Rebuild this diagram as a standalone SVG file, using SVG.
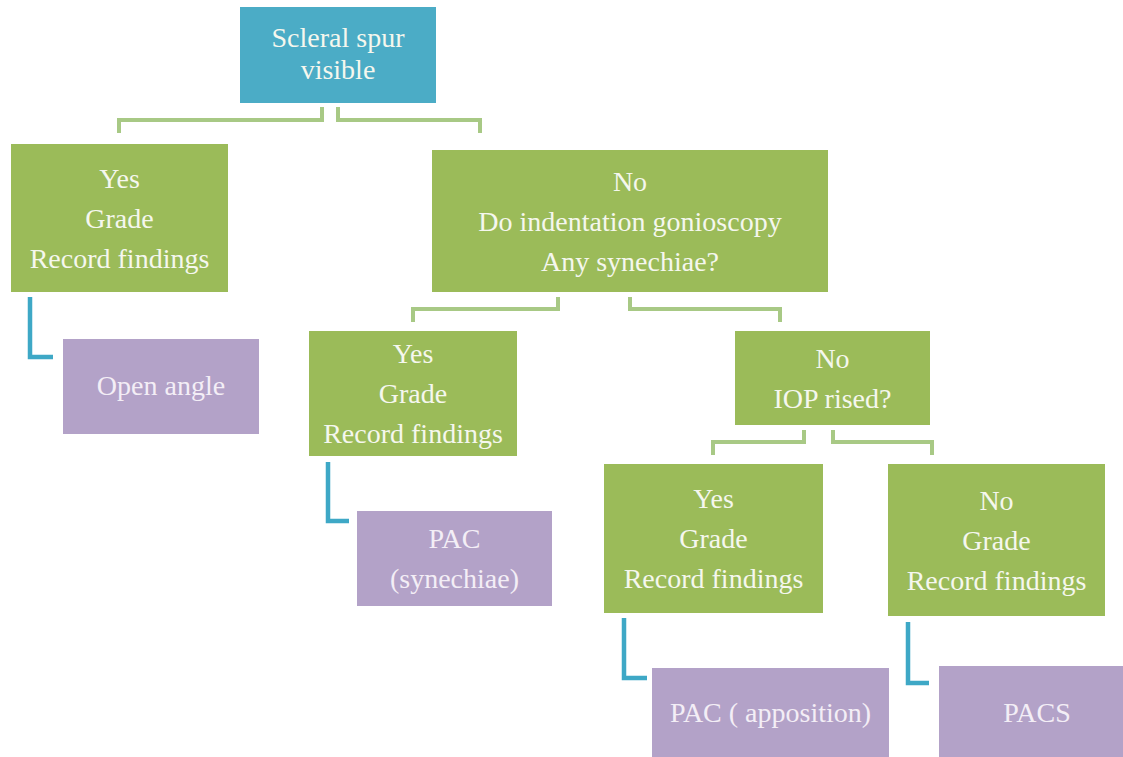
<svg xmlns="http://www.w3.org/2000/svg" width="1123" height="757" viewBox="0 0 1123 757">
<style>
text{font-family:"Liberation Serif","Times New Roman",serif;font-size:28px;text-anchor:middle}
.blue{fill:#4bacc6}
.green{fill:#9bbb59}
.purple{fill:#b3a2c8}
.tg{fill:#f5f7ee}
.tp{fill:#f3eef6}
.cg{fill:none;stroke:#a8c985;stroke-width:4;stroke-linejoin:miter}
.cb{fill:none;stroke:#3ea8c6;stroke-width:4.5;stroke-linejoin:miter}
</style>
<rect width="1123" height="757" fill="#ffffff"/>
<g id="connectors">
<path class="cg" d="M322,107 V120 H119 V133"/>
<path class="cg" d="M338,107 V120 H480 V133"/>
<path class="cg" d="M558,297 V309 H413 V322"/>
<path class="cg" d="M630,297 V309 H780 V322"/>
<path class="cg" d="M804,430 V442 H713 V455"/>
<path class="cg" d="M833,430 V442 H932 V455"/>
<path class="cb" d="M30,297 V357 H53"/>
<path class="cb" d="M328,462 V521 H349"/>
<path class="cb" d="M624,618 V678 H647"/>
<path class="cb" d="M908,622 V683 H929"/>
</g>
<g id="scleral-spur">
<rect class="blue" x="240" y="7" width="196" height="96"/>
<text class="tg" x="338" y="47" font-size="27">Scleral spur</text>
<text class="tg" x="338" y="79" font-size="27">visible</text>
</g>
<g id="yes-1">
<rect class="green" x="11" y="144" width="217" height="148"/>
<text class="tg" x="119.5" y="188">Yes</text>
<text class="tg" x="119.5" y="228">Grade</text>
<text class="tg" x="119.5" y="268">Record findings</text>
</g>
<g id="no-1">
<rect class="green" x="432" y="150" width="396" height="142"/>
<text class="tg" x="630" y="191">No</text>
<text class="tg" x="630" y="231">Do indentation gonioscopy</text>
<text class="tg" x="630" y="271">Any synechiae?</text>
</g>
<g id="open-angle">
<rect class="purple" x="63" y="339" width="196" height="95"/>
<text class="tp" x="161" y="395">Open angle</text>
</g>
<g id="yes-2">
<rect class="green" x="309" y="331" width="208" height="125"/>
<text class="tg" x="413" y="363">Yes</text>
<text class="tg" x="413" y="403">Grade</text>
<text class="tg" x="413" y="443">Record findings</text>
</g>
<g id="no-2">
<rect class="green" x="735" y="331" width="195" height="94"/>
<text class="tg" x="832.5" y="368">No</text>
<text class="tg" x="832.5" y="408">IOP rised?</text>
</g>
<g id="pac-synechiae">
<rect class="purple" x="357" y="511" width="195" height="95"/>
<text class="tp" x="454.5" y="548">PAC</text>
<text class="tp" x="454.5" y="588">(synechiae)</text>
</g>
<g id="yes-3">
<rect class="green" x="604" y="464" width="219" height="149"/>
<text class="tg" x="713.5" y="508">Yes</text>
<text class="tg" x="713.5" y="548">Grade</text>
<text class="tg" x="713.5" y="588">Record findings</text>
</g>
<g id="no-3">
<rect class="green" x="888" y="464" width="217" height="152"/>
<text class="tg" x="996.5" y="510">No</text>
<text class="tg" x="996.5" y="550">Grade</text>
<text class="tg" x="996.5" y="590">Record findings</text>
</g>
<g id="pac-apposition">
<rect class="purple" x="652" y="668" width="237" height="89"/>
<text class="tp" x="770.5" y="722">PAC ( apposition)</text>
</g>
<g id="pacs">
<rect class="purple" x="939" y="666" width="184" height="91"/>
<text class="tp" x="1037" y="722">PACS</text>
</g>
</svg>
